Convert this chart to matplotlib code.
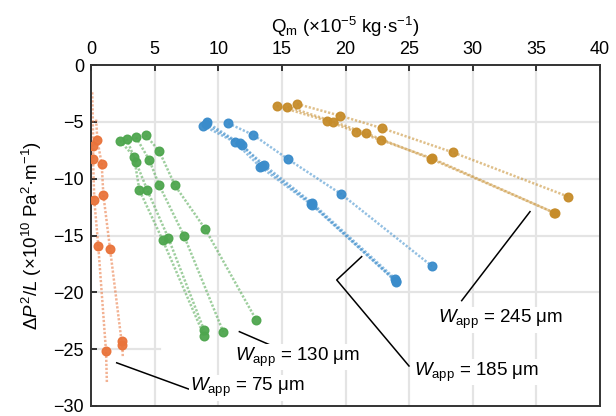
import matplotlib
matplotlib.use("Agg")
import matplotlib.pyplot as plt
import numpy as np

plt.rcParams['font.family'] = ['Liberation Sans', 'DejaVu Sans']
plt.rcParams['mathtext.fontset'] = 'custom'
plt.rcParams['mathtext.rm'] = 'Liberation Sans'
plt.rcParams['mathtext.it'] = 'Liberation Sans:italic'
plt.rcParams['mathtext.bf'] = 'Liberation Sans:bold'

# ---------------- data ----------------
# Each series: marker points (Qm, dP2/L) plus the trace extents (start / end)
# W_app = 75 um (orange)
o1_q = [0.18, 0.16, 0.26, 0.57, 1.18]
o1_p = [-7.1, -8.3, -11.9, -15.9, -25.2]
o1_start = (0.10, -2.4); o1_end = (1.25, -28.0)
o2_q = [0.50, 0.84, 0.97, 1.50, 2.40, 2.46]
o2_p = [-6.6, -8.7, -11.4, -16.2, -24.3, -24.6]
o2_start = (0.40, -4.8); o2_end = (2.50, -25.7)

# W_app = 130 um (green)
g1_q = [2.28, 3.38, 3.80, 5.63, 8.88]
g1_p = [-6.66, -8.06, -11.0, -15.4, -23.8]
g2_q = [2.80, 3.54, 4.42, 6.07, 8.88]
g2_p = [-6.50, -8.56, -11.0, -15.2, -23.3]
g3_q = [3.54, 4.58, 5.37, 7.30, 10.4]
g3_p = [-6.36, -8.36, -10.6, -15.0, -23.5]
g4_q = [4.30, 5.37, 6.60, 8.96, 12.97]
g4_p = [-6.16, -7.60, -10.6, -14.4, -22.4]

# W_app = 185 um (blue)
b1_q = [10.79, 12.76, 15.50, 19.65, 26.80]
b1_p = [-5.13, -6.16, -8.30, -11.35, -17.70]
b2_q = [8.83, 11.32, 13.28, 17.34, 23.94]
b2_p = [-5.34, -6.80, -8.94, -12.30, -19.00]
b3_q = [9.09, 11.70, 13.60, 17.34, 23.90]
b3_p = [-5.04, -6.90, -8.80, -12.10, -18.80]
b4_q = [9.00, 11.84, 13.45, 17.30, 24.00]
b4_p = [-5.20, -7.04, -8.85, -12.20, -19.10]

# W_app = 245 um (gold)
y1_q = [16.20, 19.57, 22.90, 28.42, 37.50]
y1_p = [-3.43, -4.46, -5.57, -7.68, -11.58]
y2_q = [14.58, 18.52, 20.80, 22.79, 26.77, 36.50]
y2_p = [-3.60, -4.90, -5.87, -6.60, -8.20, -13.05]
y3_q = [15.43, 19.04, 21.59, 26.70, 36.40]
y3_p = [-3.66, -4.98, -6.00, -8.25, -13.00]

x_ticks = [0, 5, 10, 15, 20, 25, 30, 35, 40]
y_ticks = [0, -5, -10, -15, -20, -25, -30]

c_orange = '#E9733A'
c_green = '#4EA64E'
c_blue = '#3A8CCB'
c_gold = '#C68C2A'

groups = [
    (c_orange, [(o1_q, o1_p, o1_start, o1_end), (o2_q, o2_p, o2_start, o2_end)]),
    (c_green, [(g1_q, g1_p, None, None), (g2_q, g2_p, None, None),
               (g3_q, g3_p, None, None), (g4_q, g4_p, None, None)]),
    (c_blue, [(b1_q, b1_p, None, None), (b2_q, b2_p, None, None),
              (b3_q, b3_p, None, None), (b4_q, b4_p, None, None)]),
    (c_gold, [(y1_q, y1_p, None, None), (y2_q, y2_p, None, None),
              (y3_q, y3_p, None, None)]),
]

fig = plt.figure(figsize=(6.16, 4.16), dpi=100)
ax = fig.add_axes([91/616, 1-406/416, 509/616, 341/416])

# grid
grid_c = '#e4e4e4'
for v in x_ticks[1:-1]:
    ax.axvline(v, color=grid_c, lw=1.6, zorder=0)
for v in y_ticks[1:-1]:
    xm = 0.135 if v == -25 else 1.0
    ax.axhline(v, xmax=xm, color=grid_c, lw=1.6, zorder=0)

for col, series in groups:
    for q, p, st, en in series:
        tq = list(q); tp = list(p)
        if st is not None:
            tq = [st[0]] + tq; tp = [st[1]] + tp
        if en is not None:
            tq = tq + [en[0]]; tp = tp + [en[1]]
        ax.plot(tq, tp, color=col, lw=1.8, alpha=0.55,
                linestyle=(0, (0.9, 0.7)), zorder=2)
        ax.plot(q, p, 'o', color=col, ms=6.2, mec=col, alpha=0.95, zorder=3)

ax.set_xlim(0, 40)
ax.set_ylim(-30, 0)
ax.set_xticks(x_ticks)
ax.set_yticks(y_ticks)
ax.xaxis.tick_top()
ax.xaxis.set_label_position('top')
ax.tick_params(axis='x', direction='in', length=4, width=1.4, color='#333333',
               labelsize=13, pad=5, top=True, bottom=False)
ax.tick_params(axis='y', direction='in', length=4, width=1.4, color='#333333',
               labelsize=13, pad=5, left=True, right=False)
for s in ax.spines.values():
    s.set_color('#333333')
    s.set_linewidth(1.4)

ax.set_xlabel(r'Q$_{\rm m}$ (×10$^{-5}$ kg·s$^{-1}$)', fontsize=13.5, labelpad=6)
ax.set_ylabel(r'$\Delta P^2/L$ (×10$^{10}$ Pa$^2$·m$^{-1}$)', fontsize=13.5, labelpad=7)

# annotations
ann_kw = dict(color='black', lw=1.1, zorder=4, clip_on=False)
box = dict(facecolor='white', edgecolor='none', pad=1.0)
fs = 13.5
ax.plot([2.02, 7.65], [-26.2, -28.5], **ann_kw)
ax.text(7.8, -28.4, r'$W_{\rm app}$ = 75 μm', fontsize=fs, va='center', ha='left',
        bbox=box, zorder=5)
ax.plot([11.66, 14.22], [-23.46, -24.7], **ann_kw)
ax.text(11.3, -25.7, r'$W_{\rm app}$ = 130 μm', fontsize=fs, va='center', ha='left',
        bbox=box, zorder=5)
ax.plot([21.27, 19.31, 24.99], [-16.86, -18.91, -26.48], **ann_kw)
ax.text(25.4, -27.0, r'$W_{\rm app}$ = 185 μm', fontsize=fs, va='center', ha='left',
        bbox=box, zorder=5)
ax.plot([34.5, 29.13], [-12.9, -20.73], **ann_kw)
ax.text(27.3, -22.4, r'$W_{\rm app}$ = 245 μm', fontsize=fs, va='center', ha='left',
        bbox=box, zorder=5)

fig.savefig('out.png', dpi=100)
